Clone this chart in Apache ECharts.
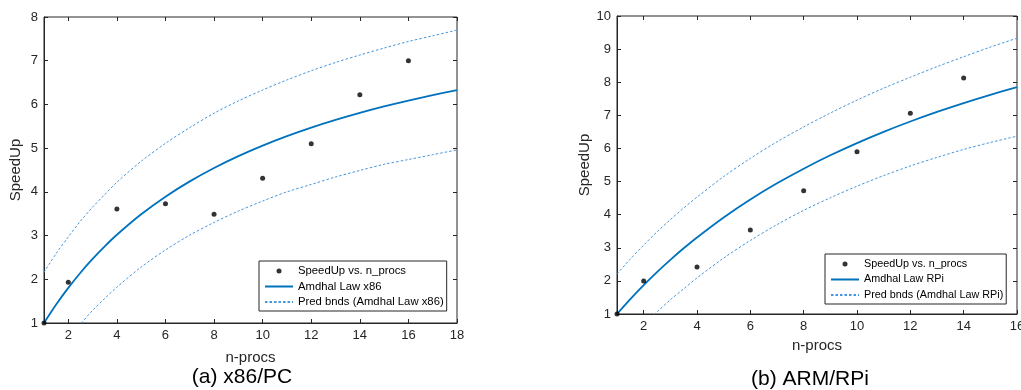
<!DOCTYPE html>
<html><head><meta charset="utf-8">
<script src="https://cdn.jsdelivr.net/npm/echarts@6/dist/echarts.min.js"></script>
<style>html,body{margin:0;padding:0;background:#fff}#c{width:1021px;height:390px}</style>
</head><body><div id="c"></div>
<script>
// ---- data ----
const x86Procs = [1,2,4,6,8,10,12,14,16];
const x86Speedup = [1.00,1.93,3.61,3.73,3.49,4.31,5.10,6.22,7.00];
const rpiProcs = [1,2,4,6,8,10,12,14];
const rpiSpeedup = [1.00,2.00,2.42,3.54,4.72,5.90,7.06,8.13];

const x86CurveX = [1,1.5,2,2.5,3,3.5,4,5,6,7,8,9,10,11,12,13,14,15,16,17,18];
const x86Fit   = [1.000,1.423,1.804,2.150,2.465,2.753,3.018,3.487,3.890,4.240,4.547,4.818,5.059,5.276,5.471,5.647,5.808,5.955,6.089,6.213,6.328];
const x86Upper = [2.16,2.59,2.97,3.33,3.65,3.94,4.22,4.70,5.11,5.47,5.80,6.08,6.33,6.56,6.77,6.96,7.13,7.29,7.44,7.57,7.70];
const x86Lower = [-0.16,0.25,0.63,0.97,1.29,1.56,1.82,2.28,2.67,3.01,3.30,3.56,3.79,4.00,4.17,4.34,4.49,4.63,4.74,4.85,4.96];

const rpiCurveX = [1,1.5,2,2.5,3,3.5,4,5,6,7,8,9,10,11,12,13,14,15,16];
const rpiFit   = [1.000,1.450,1.871,2.265,2.635,2.984,3.312,3.916,4.458,4.946,5.389,5.793,6.162,6.501,6.813,7.102,7.370,7.619,7.851];
const rpiUpper = [2.21,2.66,3.08,3.48,3.85,4.20,4.53,5.15,5.70,6.20,6.65,7.07,7.46,7.82,8.15,8.47,8.77,9.06,9.33];
const rpiLower = [-0.21,0.24,0.66,1.06,1.43,1.76,2.09,2.69,3.22,3.70,4.13,4.51,4.86,5.18,5.47,5.73,5.97,6.18,6.37];

const x86XTicks = [2,4,6,8,10,12,14,16,18];
const rpiXTicks = [2,4,6,8,10,12,14,16];

const names = {
  pts: 'SpeedUp vs. n_procs',
  x86Fit: 'Amdhal Law x86', x86Bnd: 'Pred bnds (Amdhal Law x86)',
  rpiFit: 'Amdhal Law RPi', rpiBnd: 'Pred bnds (Amdhal Law RPi)'
};
const captions = ['(a) x86/PC', '(b) ARM/RPi'];

// ---- build ----
const zip = (xs, ys) => xs.map((x, i) => [x, ys[i]]);
const FONT = 'Liberation Sans, Arial, sans-serif';
const AX = '#262626';
const FIT = '#0072BD';
const BND = '#4596dd';

function xAx(gi, min, max, ticks, pos, main, nameGap) {
  return {
    type: 'value', gridIndex: gi, min, max, position: pos,
    name: main ? 'n-procs' : '', nameLocation: 'middle', nameGap,
    nameTextStyle: {fontFamily: FONT, fontSize: 15, color: AX},
    axisLine: {show: main, lineStyle: {color: AX, width: 1}},
    axisTick: {show: true, inside: true, length: 4, customValues: ticks, lineStyle: {color: AX}},
    axisLabel: {show: main, customValues: ticks, margin: 6, fontFamily: FONT, fontSize: 13, color: AX},
    splitLine: {show: false}
  };
}
function yAx(gi, min, max, pos, main, nameGap) {
  return {
    type: 'value', gridIndex: gi, min, max, interval: 1, position: pos,
    name: main ? 'SpeedUp' : '', nameLocation: 'middle', nameGap,
    nameTextStyle: {fontFamily: FONT, fontSize: 15, color: AX},
    axisLine: {show: main, lineStyle: {color: AX, width: 1}},
    axisTick: {show: true, inside: true, length: 4, lineStyle: {color: AX}},
    axisLabel: {show: main, margin: 6, fontFamily: FONT, fontSize: 13, color: AX},
    splitLine: {show: false}
  };
}
const lineS = (name, xi, yi, data, color, width, type) => ({
  type: 'line', name, xAxisIndex: xi, yAxisIndex: yi, data, smooth: 0.3,
  symbol: 'none', clip: true, silent: true, animation: false,
  lineStyle: {color, width, type}, itemStyle: {color}
});
const ptsS = (xi, yi, data) => ({
  type: 'scatter', name: names.pts, xAxisIndex: xi, yAxisIndex: yi, data,
  symbolSize: 5, itemStyle: {color: '#000'}, animation: false, z: 5
});
function legend(left, top, items, fs) {
  return {
    orient: 'vertical', left, top,
    data: [
      {name: items[0]},
      {name: items[1], itemStyle: {opacity: 0}},
      {name: items[2], itemStyle: {opacity: 0}}
    ],
    itemWidth: 28, itemHeight: 5, itemGap: 1.5,
    padding: [3, 3, 2, 5],
    borderColor: AX, borderWidth: 1, backgroundColor: '#fff',
    textStyle: {fontFamily: FONT, fontSize: fs, color: '#000', lineHeight: 14},
    selectedMode: false
  };
}

const chart = echarts.init(document.getElementById('c'), null, {renderer: 'canvas'});
chart.setOption({
  backgroundColor: '#fff',
  animation: false,
  grid: [
    {left: 44, right: 564, top: 17, bottom: 67, show: true, borderColor: AX, borderWidth: 1, outerBoundsMode: 'none', containLabel: false},
    {left: 617, right: 4, top: 16, bottom: 76, show: true, borderColor: AX, borderWidth: 1, outerBoundsMode: 'none', containLabel: false}
  ],
  xAxis: [
    xAx(0, 1, 18, x86XTicks, 'bottom', true, 27),
    xAx(0, 1, 18, x86XTicks, 'top', false, 0),
    xAx(1, 1, 16, rpiXTicks, 'bottom', true, 21),
    xAx(1, 1, 16, rpiXTicks, 'top', false, 0)
  ],
  yAxis: [
    yAx(0, 1, 8, 'left', true, 21),
    yAx(0, 1, 8, 'right', false, 0),
    yAx(1, 1, 10, 'left', true, 17),
    yAx(1, 1, 10, 'right', false, 0)
  ],
  legend: [
    legend(259, 261, [names.pts, names.x86Fit, names.x86Bnd], 11.3),
    legend(825, 254, [names.pts, names.rpiFit, names.rpiBnd], 10.8)
  ],
  series: [
    lineS(names.x86Bnd, 0, 0, zip(x86CurveX, x86Upper), BND, 1, [2.5, 2]),
    lineS(names.x86Bnd, 0, 0, zip(x86CurveX, x86Lower), BND, 1, [2.5, 2]),
    lineS(names.x86Fit, 0, 0, zip(x86CurveX, x86Fit), FIT, 1.8, 'solid'),
    ptsS(0, 0, zip(x86Procs, x86Speedup)),
    lineS(names.rpiBnd, 2, 2, zip(rpiCurveX, rpiUpper), BND, 1, [2.5, 2]),
    lineS(names.rpiBnd, 2, 2, zip(rpiCurveX, rpiLower), BND, 1, [2.5, 2]),
    lineS(names.rpiFit, 2, 2, zip(rpiCurveX, rpiFit), FIT, 1.8, 'solid'),
    ptsS(2, 2, zip(rpiProcs, rpiSpeedup))
  ],
  graphic: [
    {type: 'text', x: 242, y: 377, style: {text: captions[0], fontFamily: FONT, fontSize: 21, fill: '#000', align: 'center', verticalAlign: 'middle'}},
    {type: 'text', x: 810, y: 379, style: {text: captions[1], fontFamily: FONT, fontSize: 21, fill: '#000', align: 'center', verticalAlign: 'middle'}}
  ]
});
</script>
</body></html>
